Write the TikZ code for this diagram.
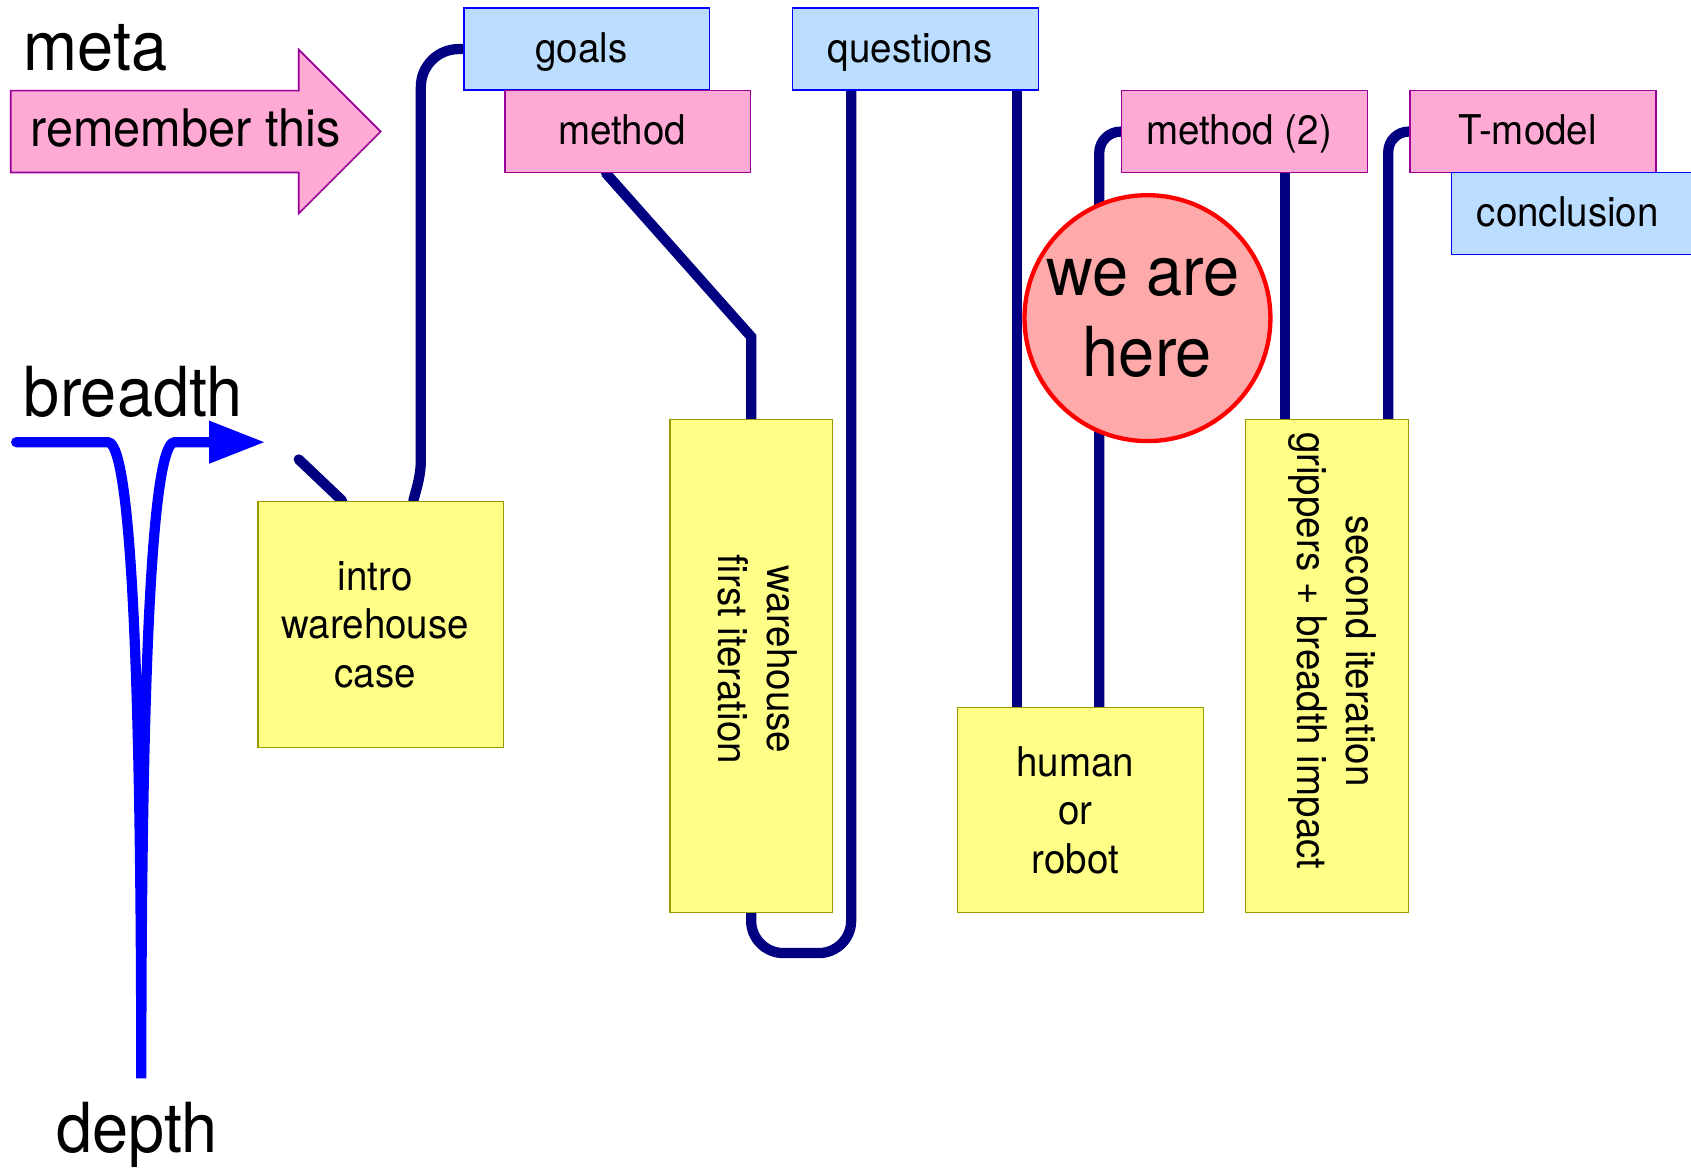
\documentclass[tikz,border=0pt]{standalone}
\usepackage{fontspec}
\setmainfont[FakeStretch=0.94]{TeX Gyre Heros}
\usetikzlibrary{arrows.meta,calc,backgrounds}
\definecolor{pinkF}{RGB}{255,170,212}
\definecolor{pinkD}{RGB}{153,0,153}
\definecolor{blueF}{RGB}{187,221,255}
\definecolor{blueD}{RGB}{0,0,255}
\definecolor{yelF}{RGB}{255,255,136}
\definecolor{yelD}{RGB}{153,153,0}
\definecolor{navyC}{RGB}{0,0,128}
\definecolor{circF}{RGB}{255,170,170}
\newcommand\bxfont{\fontsize{38}{45}\selectfont}
\newcommand\lblfont{\fontsize{64}{75}\selectfont}
\newcommand\remfont{\fontsize{48}{54}\selectfont}
\begin{document}
\begin{tikzpicture}[x=1pt,y=-1pt,
  box/.style={rectangle, inner sep=0pt, line width=1.5pt, font=\bxfont},
  onebox/.style={box, minimum width=228pt, minimum height=76pt, text height=26pt, text depth=2pt,
                 execute at begin node={\hspace*{-10pt}}},
  pinkbox/.style={onebox, fill=pinkF, draw=pinkD},
  bluebox/.style={onebox, fill=blueF, draw=blueD},
  yelbox/.style={box, fill=yelF, draw=yelD},
  btext/.style={font=\bxfont, align=center, inner sep=0pt},
  conn/.style={draw=navyC, line width=9.5pt, line cap=round},
  lbl/.style={font=\lblfont, inner sep=0pt, anchor=base west},
  vtext/.style={btext, rotate=-90}]
\useasboundingbox (0,0) rectangle (1568,1084);

% labels
\node[lbl] (meta) at (22,65) {meta};
\node[lbl] (breadth) at (22,386) {breadth};
\node[lbl] (depth) at (52,1069) {depth};

% pink arrow
\draw[fill=pinkF, draw=pinkD, line width=1.5pt]
  (10,84) -- (277,84) -- (277,46) -- (353,122) -- (277,198) -- (277,160) -- (10,160) -- cycle;
\node[font=\remfont, inner sep=0pt, anchor=base west] (remember) at (28,136) {remember this};

% blue breadth/depth path
\draw[draw=blueD, line width=9.5pt, line cap=round, -{Triangle[length=52pt,width=37pt]}]
  (15,410) -- (100,410) .. controls (114,410) and (131,500) .. (131,1000)
  .. controls (131,490) and (149,410) .. (162,410) -- (246,410);

% top boxes
\node[bluebox] (goals) at (544,45.5) {goals};
\node[pinkbox] (method) at (582,122) {method};
\node[bluebox] (questions) at (849,45.5) {questions};
\node[pinkbox] (method2) at (1154,122) {method (2)};
\node[pinkbox] (tmodel) at (1421.5,122) {T-model};
\node[bluebox, minimum width=240pt, anchor=west] (conclusion) at (1345,198) {\hspace*{-14pt}conclusion};

% yellow boxes
\node[yelbox, minimum width=228pt, minimum height=228pt] (intro) at (353,579) {};
\node[btext] (introtext) at ($(intro.center)+(-5,0)$) {intro\\warehouse\\case};
\node[yelbox, minimum width=151pt, minimum height=457pt] (warehouse) at (696.5,617.5) {};
\node[vtext] (warehousetext) at ($(warehouse.center)+(6,-6)$) {warehouse\\first iteration};
\node[yelbox, minimum width=228pt, minimum height=190pt] (human) at (1002,751) {};
\node[btext] (humantext) at ($(human.center)+(-5,0)$) {human\\or\\robot};
\node[yelbox, minimum width=151pt, minimum height=457pt] (second) at (1230.5,617.5) {};
\node[vtext] (secondtext) at ($(second.center)+(5,-14)$) {second iteration\\grippers + breadth impact};

% we are here
\node[circle, minimum size=228pt, inner sep=0pt, fill=circF, draw=red, line width=4pt,
      align=center, font=\lblfont] (here) at (1064,295) {\hspace*{-8pt}we are\\here};

\coordinate (dang) at (277,426);

\begin{scope}[on background layer]
  \draw[conn] (dang) -- ($(intro.north west)+(79,0)$);
  \draw[conn] ($(intro.north west)+(145,0)$) .. controls +(4,-15) and +(0,15) .. ($(goals.west)+(-39,380)$)
     [rounded corners=35pt] |- (goals.west);
  \draw[conn] ($(method.south)+(-20,0)$) -- ($(warehouse.north)+(0,-76)$) -- (warehouse.north);
  \draw[conn, rounded corners=30pt] (warehouse.south) -- ++(0,37) -| ($(questions.south west)+(55,0)$);
  \draw[conn] ($(questions.south west)+(209,0)$) -- ($(human.north west)+(56,0)$);
  \draw[conn, rounded corners=20pt] ($(human.north west)+(132,0)$) |- (method2.west);
  \draw[conn] ($(method2.south west)+(152,0)$) -- ($(second.north west)+(37,0)$);
  \draw[conn, rounded corners=19pt] ($(second.north west)+(133,0)$) |- (tmodel.west);
\end{scope}
\end{tikzpicture}
\end{document}
